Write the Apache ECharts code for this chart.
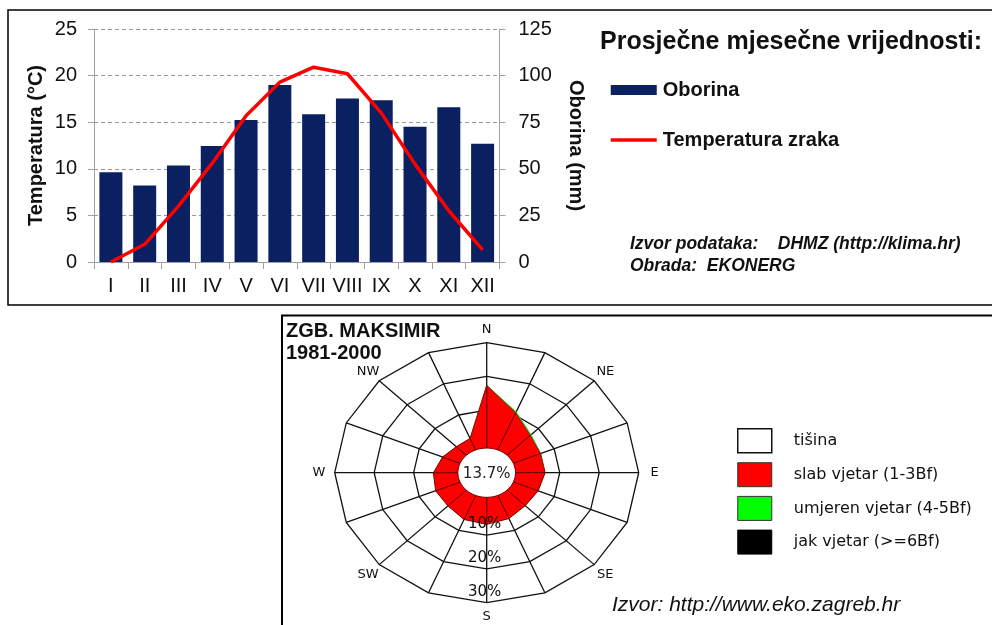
<!DOCTYPE html>
<html>
<head>
<meta charset="utf-8">
<script src="https://cdn.jsdelivr.net/npm/echarts@6/dist/echarts.min.js"></script>
<style>
html,body{margin:0;padding:0;background:#fff;}
#c{width:992px;height:625px;}
</style>
</head>
<body>
<div id="c"></div>
<script>
// ---------- Top chart data ----------
const months = ['I','II','III','IV','V','VI','VII','VIII','IX','X','XI','XII'];
const oborina = [48.2, 41.1, 51.8, 62.2, 76.2, 95.0, 79.3, 87.7, 86.8, 72.6, 83.0, 63.5];
const temperatura = [0.0, 1.9, 6.0, 10.6, 15.7, 19.3, 20.9, 20.2, 16.0, 10.5, 5.5, 1.3];
const tempAxis = {min: 0, max: 25, interval: 5};
const oborinaAxis = {min: 0, max: 125, interval: 25};

// ---------- Wind rose data ----------
const directions = ['N','NNE','NE','ENE','E','ESE','SE','SSE','S','SSW','SW','WSW','W','WNW','NW','NNW'];
const slabVjetar = [17.4, 10.8, 7.2, 6.3, 6.3, 5.6, 5.3, 6.2, 6.8, 6.5, 5.4, 5.5, 5.0, 3.6, 2.4, 2.5];
const umjerenVjetar = [0.1, 0.3, 0.3, 0.1, 0, 0, 0, 0, 0, 0, 0, 0, 0, 0, 0, 0];
const jakVjetar = [0, 0, 0, 0, 0, 0, 0, 0, 0, 0, 0, 0, 0, 0, 0, 0];
const tisina = 13.7;
const ringPercents = [10, 20, 30];
const compassLabels = ['N','NE','E','SE','S','SW','W','NW'];

const FONT = '"Liberation Sans", Arial, sans-serif';
const ROSE_FONT = '"DejaVu Sans", "Liberation Sans", sans-serif';

// rose geometry (in axis units)
const R0 = 8.5;          // radius of the 0 % ring
const RCALM = 7.3;       // calm circle radius
const RMAX = R0 + 30;    // outer ring
const RLABEL = 42.5;     // compass label radius
const N_DIR = directions.length;
function pt(r, i) {
  const a = i * (360 / N_DIR) * Math.PI / 180;
  return [r * Math.sin(a), r * Math.cos(a)];
}
const roseAxes = {xAxisIndex: 1, yAxisIndex: 2, coordinateSystem: 'cartesian2d'};

const chart = echarts.init(document.getElementById('c'), null, {renderer: 'canvas'});

const option = {
  animation: false,
  backgroundColor: '#fff',
  textStyle: {fontFamily: FONT},
  title: [
    {text: 'Prosječne mjesečne vrijednosti:', left: 595, top: 25,
     textStyle: {fontSize: 25, fontWeight: 'bold', color: '#111', fontFamily: FONT}},
    {text: 'Izvor podataka:    DHMZ (http://klima.hr)\nObrada:  EKONERG', left: 625, top: 228,
     textStyle: {fontSize: 17.5, fontWeight: 'bold', fontStyle: 'italic', color: '#111', lineHeight: 22, fontFamily: FONT}},
    {text: 'ZGB. MAKSIMIR\n1981-2000', left: 281, top: 315,
     textStyle: {fontSize: 20, fontWeight: 'bold', color: '#111', lineHeight: 22, fontFamily: FONT}},
    {text: 'Izvor: http://www.eko.zagreb.hr', left: 607, top: 590,
     textStyle: {fontSize: 21, fontWeight: 'normal', fontStyle: 'italic', color: '#111', fontFamily: FONT}}
  ],
  legend: [
    {
      orient: 'vertical', left: 604, top: 75, itemWidth: 46, itemHeight: 10, itemGap: 30,
      selectedMode: false,
      data: [
        {name: 'Oborina', icon: 'rect'},
        {name: 'Temperatura zraka', itemStyle: {color: 'rgba(0,0,0,0)', borderWidth: 0},
         lineStyle: {width: 3.5, color: '#ff0000'}}
      ],
      textStyle: {fontSize: 20, fontWeight: 'bold', color: '#111', fontFamily: FONT, padding: [0, 0, 0, 1]}
    },
    {
      orient: 'vertical', left: 732, top: 423, itemWidth: 34, itemHeight: 24, itemGap: 8.7,
      selectedMode: false,
      data: [
        {name: 'tišina', icon: 'rect', itemStyle: {color: '#fff', borderColor: '#111', borderWidth: 1.5}},
        {name: 'slab vjetar (1-3Bf)', icon: 'rect', itemStyle: {color: '#f00', borderColor: '#333', borderWidth: 1}},
        {name: 'umjeren vjetar (4-5Bf)', icon: 'rect', itemStyle: {color: '#0f0', borderColor: '#333', borderWidth: 1}},
        {name: 'jak vjetar (>=6Bf)', icon: 'rect', itemStyle: {color: '#000', borderColor: '#000', borderWidth: 1}}
      ],
      textStyle: {fontSize: 16, color: '#111', fontFamily: ROSE_FONT, padding: [0, 0, 0, 17]}
    }
  ],
  grid: [
    {left: 94, right: 492.5, top: 29, bottom: 363},
    {left: 486.7 - 152, width: 304, top: 472.7 - 130, height: 260}
  ],
  xAxis: [
    {
      type: 'category', gridIndex: 0, data: months, boundaryGap: true,
      axisLine: {lineStyle: {color: '#a0a0a0', width: 1}},
      axisTick: {show: true, length: 7, lineStyle: {color: '#a0a0a0'}},
      axisLabel: {fontSize: 20, color: '#111', margin: 14, fontFamily: FONT, interval: 0}
    },
    {type: 'value', gridIndex: 1, min: -RMAX, max: RMAX, show: false}
  ],
  yAxis: [
    {
      type: 'value', gridIndex: 0, position: 'left',
      min: tempAxis.min, max: tempAxis.max, interval: tempAxis.interval,
      name: 'Temperatura (°C)', nameLocation: 'middle', nameGap: 48, nameRotate: 90,
      nameTextStyle: {fontSize: 20, fontWeight: 'bold', color: '#111', fontFamily: FONT},
      axisLine: {show: true, lineStyle: {color: '#a0a0a0'}},
      axisTick: {show: true, length: 6, lineStyle: {color: '#a0a0a0'}},
      axisLabel: {fontSize: 20, color: '#111', margin: 17, fontFamily: FONT},
      splitLine: {show: true, lineStyle: {color: '#999', type: [4, 3], width: 1}}
    },
    {
      type: 'value', gridIndex: 0, position: 'right',
      min: oborinaAxis.min, max: oborinaAxis.max, interval: oborinaAxis.interval,
      name: 'Oborina (mm)', nameLocation: 'middle', nameGap: 66, nameRotate: -90,
      nameTextStyle: {fontSize: 20, fontWeight: 'bold', color: '#111', fontFamily: FONT},
      axisLine: {show: true, lineStyle: {color: '#a0a0a0'}},
      axisTick: {show: true, length: 6, lineStyle: {color: '#a0a0a0'}},
      axisLabel: {fontSize: 20, color: '#111', margin: 19, fontFamily: FONT},
      splitLine: {show: false}
    },
    {type: 'value', gridIndex: 1, min: -RMAX, max: RMAX, show: false}
  ],
  series: [
    {
      name: 'Oborina', type: 'bar', xAxisIndex: 0, yAxisIndex: 1, data: oborina,
      barWidth: 23, itemStyle: {color: '#0a2060'}
    },
    {
      name: 'Temperatura zraka', type: 'line', xAxisIndex: 0, yAxisIndex: 0, data: temperatura,
      symbol: 'none', lineStyle: {color: '#ff0000', width: 3.5}, itemStyle: {color: '#ff0000'}
    },
    // ring polygons
    Object.assign({
      name: 'rings', type: 'custom', silent: true,
      data: ringPercents.map(p => [p, 0]),
      renderItem: function (params, api) {
        const p = api.value(0);
        const pts = [];
        for (let k = 0; k <= N_DIR; k++) pts.push(api.coord(pt(R0 + p, k % N_DIR)));
        return {type: 'polyline', shape: {points: pts}, style: {stroke: '#111', lineWidth: 1.3, fill: null}};
      }
    }, roseAxes),
    // spokes
    Object.assign({
      name: 'spokes', type: 'custom', silent: true,
      data: directions.map((d, i) => [i, 0]),
      renderItem: function (params, api) {
        const i = api.value(0);
        const a = api.coord(pt(0, i)), b = api.coord(pt(RMAX, i));
        return {type: 'line', shape: {x1: a[0], y1: a[1], x2: b[0], y2: b[1]}, style: {stroke: '#111', lineWidth: 1.3}};
      }
    }, roseAxes),
    // slab vjetar
    Object.assign({
      name: 'slab vjetar (1-3Bf)', type: 'custom', itemStyle: {color: '#f00'},
      data: slabVjetar.map((v, i) => [i, v]),
      renderItem: function (params, api) {
        const i = api.value(0), v = api.value(1);
        const n = (i + 1) % N_DIR;
        const pts = [api.coord([0, 0]), api.coord(pt(R0 + v, i)), api.coord(pt(R0 + slabVjetar[n], n))];
        return {type: 'polygon', shape: {points: pts}, style: {fill: '#ff0000', stroke: '#700000', lineWidth: 1}};
      }
    }, roseAxes),
    // umjeren vjetar
    Object.assign({
      name: 'umjeren vjetar (4-5Bf)', type: 'custom', itemStyle: {color: '#0f0'},
      data: umjerenVjetar.map((v, i) => [i, v]),
      renderItem: function (params, api) {
        const i = api.value(0), v = api.value(1);
        const n = (i + 1) % N_DIR;
        const b0 = R0 + slabVjetar[i], b1 = R0 + slabVjetar[n];
        const pts = [api.coord(pt(b0, i)), api.coord(pt(b0 + v, i)),
                     api.coord(pt(b1 + umjerenVjetar[n], n)), api.coord(pt(b1, n))];
        return {type: 'polygon', shape: {points: pts}, style: {fill: '#22dd22', stroke: null}};
      }
    }, roseAxes),
    // jak vjetar
    Object.assign({
      name: 'jak vjetar (>=6Bf)', type: 'custom', itemStyle: {color: '#000'},
      data: jakVjetar.map((v, i) => [i, v]),
      renderItem: function (params, api) {
        const i = api.value(0), v = api.value(1);
        const n = (i + 1) % N_DIR;
        const b0 = R0 + slabVjetar[i] + umjerenVjetar[i], b1 = R0 + slabVjetar[n] + umjerenVjetar[n];
        const pts = [api.coord(pt(b0, i)), api.coord(pt(b0 + v, i)),
                     api.coord(pt(b1 + jakVjetar[n], n)), api.coord(pt(b1, n))];
        return {type: 'polygon', shape: {points: pts}, style: {fill: '#000', stroke: null}};
      }
    }, roseAxes),
    // tišina (calm)
    Object.assign({
      name: 'tišina', type: 'custom', itemStyle: {color: '#fff'},
      data: [[tisina, 0]],
      renderItem: function (params, api) {
        const pts = [];
        for (let k = 0; k < 64; k++) {
          const a = k / 64 * 2 * Math.PI;
          pts.push(api.coord([RCALM * Math.sin(a), RCALM * Math.cos(a)]));
        }
        const c = api.coord([0, 0]);
        return {type: 'group', children: [
          {type: 'polygon', shape: {points: pts}, style: {fill: '#fff', stroke: '#6b0000', lineWidth: 1}},
          {type: 'text', x: c[0], y: c[1] + 1, style: {text: api.value(0).toFixed(1) + '%', fill: '#222',
            fontSize: 15, fontFamily: ROSE_FONT, align: 'center', verticalAlign: 'middle'}}
        ]};
      }
    }, roseAxes),
    // ring labels
    Object.assign({
      name: 'ringLabels', type: 'custom', silent: true,
      data: ringPercents.map(p => [p, 0]),
      renderItem: function (params, api) {
        const p = api.value(0);
        const c = api.coord(pt(R0 + p - 3.2, N_DIR / 2));
        return {type: 'text', x: c[0] - 2, y: c[1], style: {text: p + '%', fill: '#111', fontSize: 15,
          fontFamily: ROSE_FONT, align: 'center', verticalAlign: 'middle'}};
      }
    }, roseAxes),
    // compass labels
    Object.assign({
      name: 'compass', type: 'custom', silent: true,
      data: compassLabels.map((d, j) => [j, 0]),
      renderItem: function (params, api) {
        const j = api.value(0);
        const c = api.coord(pt(RLABEL, j * 2));
        return {type: 'text', x: c[0], y: c[1], style: {text: compassLabels[j], fill: '#111', fontSize: 13,
          fontFamily: ROSE_FONT, align: 'center', verticalAlign: 'middle'}};
      }
    }, roseAxes)
  ],
  graphic: [
    {type: 'rect', silent: true, shape: {x: 8, y: 10, width: 1000, height: 295},
     style: {fill: null, stroke: '#000', lineWidth: 1.5}},
    {type: 'rect', silent: true, shape: {x: 282, y: 315.5, width: 720, height: 330},
     style: {fill: null, stroke: '#000', lineWidth: 2}}
  ]
};
chart.setOption(option);
</script>
</body>
</html>
